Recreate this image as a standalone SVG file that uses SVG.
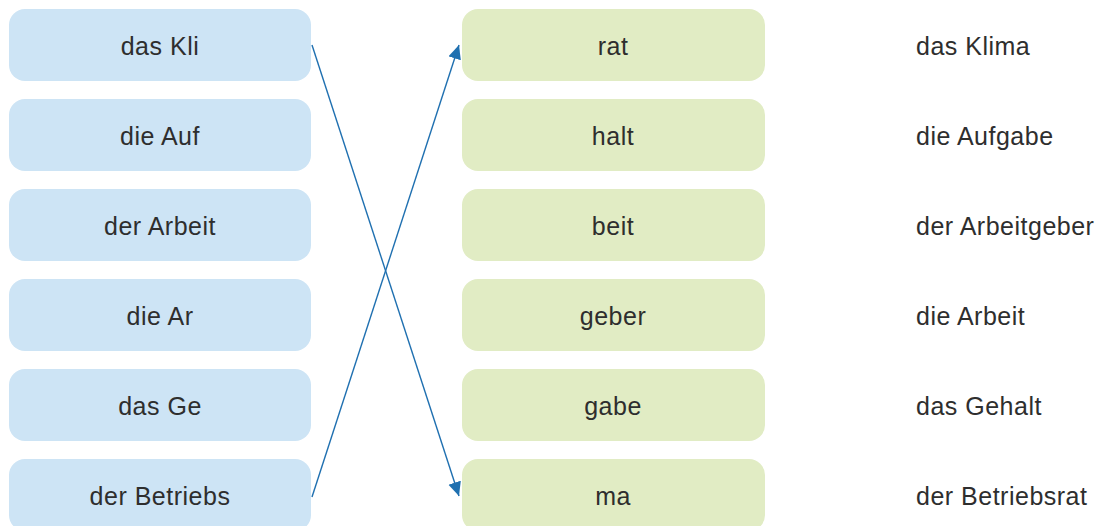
<svg xmlns="http://www.w3.org/2000/svg" width="1099" height="526" viewBox="0 0 1099 526">
<style>
.l{fill:#cde4f5}
.r{fill:#e1ecc4}
text{font-family:"Liberation Sans",Arial,sans-serif;font-size:25px;fill:#2e2e2e;letter-spacing:0.5px}
.c{text-anchor:middle}
.cn{stroke:#1f70b0;stroke-width:1.4;fill:none}
</style>
<defs>
<marker id="ah" markerUnits="userSpaceOnUse" markerWidth="16" markerHeight="14" refX="14" refY="6.5" orient="auto">
<path d="M0,0 L14,6.5 L0,13 Z" fill="#1f70b0"/>
</marker>
</defs>
<g id="left1"><rect class="l" x="9" y="9" width="302" height="72" rx="16"/><text class="c" x="160" y="54.5">das Kli</text></g>
<g id="left2"><rect class="l" x="9" y="99" width="302" height="72" rx="16"/><text class="c" x="160" y="144.5">die Auf</text></g>
<g id="left3"><rect class="l" x="9" y="189" width="302" height="72" rx="16"/><text class="c" x="160" y="234.5">der Arbeit</text></g>
<g id="left4"><rect class="l" x="9" y="279" width="302" height="72" rx="16"/><text class="c" x="160" y="324.5">die Ar</text></g>
<g id="left5"><rect class="l" x="9" y="369" width="302" height="72" rx="16"/><text class="c" x="160" y="414.5">das Ge</text></g>
<g id="left6"><rect class="l" x="9" y="459" width="302" height="72" rx="16"/><text class="c" x="160" y="504.5">der Betriebs</text></g>
<g id="right1"><rect class="r" x="462" y="9" width="303" height="72" rx="16"/><text class="c" x="613" y="54.5">rat</text></g>
<g id="right2"><rect class="r" x="462" y="99" width="303" height="72" rx="16"/><text class="c" x="613" y="144.5">halt</text></g>
<g id="right3"><rect class="r" x="462" y="189" width="303" height="72" rx="16"/><text class="c" x="613" y="234.5">beit</text></g>
<g id="right4"><rect class="r" x="462" y="279" width="303" height="72" rx="16"/><text class="c" x="613" y="324.5">geber</text></g>
<g id="right5"><rect class="r" x="462" y="369" width="303" height="72" rx="16"/><text class="c" x="613" y="414.5">gabe</text></g>
<g id="right6"><rect class="r" x="462" y="459" width="303" height="72" rx="16"/><text class="c" x="613" y="504.5">ma</text></g>
<g id="words">
<text x="916" y="54.5">das Klima</text>
<text x="916" y="144.5">die Aufgabe</text>
<text x="916" y="234.5">der Arbeitgeber</text>
<text x="916" y="324.5">die Arbeit</text>
<text x="916" y="414.5">das Gehalt</text>
<text x="916" y="504.5">der Betriebsrat</text>
</g>
<g id="connectors">
<line class="cn" x1="312" y1="45" x2="459" y2="496" marker-end="url(#ah)"/>
<line class="cn" x1="312" y1="497" x2="459" y2="45" marker-end="url(#ah)"/>
</g>
</svg>
